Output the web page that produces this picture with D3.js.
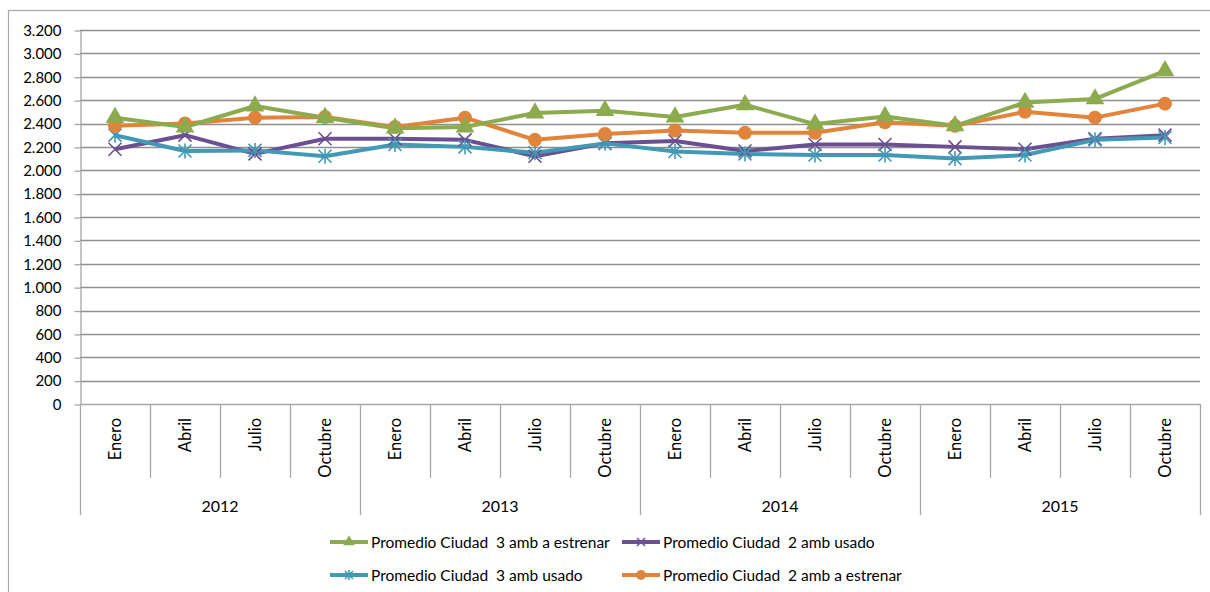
<!DOCTYPE html>
<html>
<head>
<meta charset="utf-8">
<script src="https://cdn.jsdelivr.net/npm/d3@7"></script>
<style>
  html, body { margin: 0; padding: 0; background: #fff; }
  svg { display: block; }
  text { font-family: Lato, "Open Sans", sans-serif; fill: #000; white-space: pre; }
</style>
</head>
<body>
<svg id="chart" width="1210" height="592"></svg>
<script>
// Quarterly averages, city of Buenos Aires
const years = ["2012", "2013", "2014", "2015"];
const months = ["Enero", "Abril", "Julio", "Octubre"];
const yTicks = [0, 200, 400, 600, 800, 1000, 1200, 1400, 1600, 1800, 2000, 2200, 2400, 2600, 2800, 3000, 3200];

const tresAmbEstrenar = [2450, 2370, 2550, 2450, 2360, 2370, 2490, 2510, 2455, 2560, 2395, 2460, 2380, 2580, 2610, 2850];
const dosAmbUsado     = [2180, 2300, 2140, 2270, 2270, 2260, 2120, 2230, 2250, 2165, 2220, 2220, 2200, 2180, 2270, 2300];
const tresAmbUsado    = [2300, 2165, 2170, 2120, 2220, 2200, 2150, 2230, 2160, 2140, 2130, 2130, 2100, 2130, 2260, 2280];
const dosAmbEstrenar  = [2380, 2400, 2450, 2455, 2370, 2450, 2260, 2310, 2340, 2320, 2320, 2410, 2380, 2500, 2450, 2570];

const seriesNames = [
  "Promedio Ciudad  3 amb a estrenar",
  "Promedio Ciudad  2 amb usado",
  "Promedio Ciudad  3 amb usado",
  "Promedio Ciudad  2 amb a estrenar"
];

const series = [
  { name: seriesNames[0], values: tresAmbEstrenar, color: "#8cab4e", marker: "triangle" },
  { name: seriesNames[1], values: dosAmbUsado,     color: "#6c4f91", marker: "x" },
  { name: seriesNames[2], values: tresAmbUsado,    color: "#4199b4", marker: "star" },
  { name: seriesNames[3], values: dosAmbEstrenar,  color: "#e0843b", marker: "circle" }
];

const categories = [];
years.forEach(y => months.forEach(m => categories.push({ key: y + "-" + m, year: y, month: m })));

const svg = d3.select("#chart");
const plotLeft = 80, plotRight = 1200, plotTop = 30, plotBottom = 404;

// outer chart frame
svg.append("rect")
  .attr("x", 8.5).attr("y", 10.5).attr("width", 1220).attr("height", 620)
  .attr("fill", "none").attr("stroke", "#a6a6a6").attr("stroke-width", 1.2);

const x = d3.scaleBand().domain(categories.map(d => d.key)).range([plotLeft, plotRight]);
const y = d3.scaleLinear().domain([0, 3200]).range([plotBottom, plotTop]);

// horizontal gridlines
svg.append("g").selectAll("line").data(yTicks.filter(v => v > 0)).join("line")
  .attr("x1", plotLeft).attr("x2", plotRight)
  .attr("y1", d => Math.round(y(d)) + 0.5).attr("y2", d => Math.round(y(d)) + 0.5)
  .attr("stroke", "#8f8f8f").attr("stroke-width", 1.3);

// y axis
const yAxis = d3.axisLeft(y).tickValues(yTicks).tickSizeInner(6).tickSizeOuter(0).tickPadding(13)
  .tickFormat(d => d3.format(",")(d).replace(/,/g, "."));
const gy = svg.append("g").attr("transform", `translate(${plotLeft + 0.5},0.5)`).call(yAxis);
gy.select(".domain").attr("stroke", "#a6a6a6").attr("stroke-width", 1.3);
gy.selectAll(".tick line").attr("stroke", "#a6a6a6").attr("stroke-width", 1.3);
gy.selectAll(".tick text").attr("font-size", 15).attr("font-family", "Lato, sans-serif").attr("fill", "#000");

// x axis baseline
svg.append("line")
  .attr("x1", plotLeft).attr("x2", plotRight).attr("y1", plotBottom + 0.5).attr("y2", plotBottom + 0.5)
  .attr("stroke", "#a6a6a6").attr("stroke-width", 1.3);

// category separators (short) and year separators (long)
const bounds = d3.range(categories.length + 1);
svg.append("g").selectAll("line").data(bounds).join("line")
  .attr("x1", i => Math.round(plotLeft + i * x.bandwidth()) + 0.5)
  .attr("x2", i => Math.round(plotLeft + i * x.bandwidth()) + 0.5)
  .attr("y1", plotBottom)
  .attr("y2", i => (i % months.length === 0) ? 515 : 478)
  .attr("stroke", "#a6a6a6").attr("stroke-width", 1.3);

// month labels, rotated
svg.append("g").selectAll("text").data(categories).join("text")
  .attr("transform", d => `translate(${x(d.key) + x.bandwidth() / 2 + 6},418) rotate(-90)`)
  .attr("text-anchor", "end")
  .attr("font-size", 16.5)
  .text(d => d.month);

// year labels
svg.append("g").selectAll("text").data(years).join("text")
  .attr("x", d => x(d + "-" + months[0]) + x.bandwidth() * months.length / 2)
  .attr("y", 512)
  .attr("text-anchor", "middle")
  .attr("font-size", 16)
  .text(d => d);

// marker symbols
function drawMarker(g, type, color, size) {
  if (type === "triangle") {
    g.append("path").attr("d", d3.symbol(d3.symbolTriangle, size * size * 0.9)()).attr("fill", color);
  } else if (type === "circle") {
    g.append("circle").attr("r", size / 2).attr("fill", color);
  } else if (type === "x") {
    const h = size / 2;
    g.append("path").attr("d", `M${-h},${-h}L${h},${h}M${-h},${h}L${h},${-h}`)
      .attr("stroke", color).attr("stroke-width", 1.6).attr("fill", "none");
  } else if (type === "star") {
    const h = size / 2;
    g.append("path").attr("d", `M${-h},${-h}L${h},${h}M${-h},${h}L${h},${-h}M0,${-h - 1}L0,${h + 1}`)
      .attr("stroke", color).attr("stroke-width", 1.6).attr("fill", "none");
  }
}

const line = d3.line()
  .x((d, i) => x(categories[i].key) + x.bandwidth() / 2)
  .y(d => y(d));

// draw in stacking order: purple and teal underneath, then orange, green
const drawOrder = [1, 2, 3, 0];
drawOrder.forEach(si => {
  const s = series[si];
  svg.append("path").datum(s.values)
    .attr("d", line)
    .attr("fill", "none")
    .attr("stroke", s.color)
    .attr("stroke-width", 4)
    .attr("stroke-linejoin", "round");
});
drawOrder.forEach(si => {
  const s = series[si];
  const size = s.marker === "circle" ? 14 : 13;
  s.values.forEach((v, i) => {
    const g = svg.append("g")
      .attr("transform", `translate(${x(categories[i].key) + x.bandwidth() / 2},${y(v)})`);
    drawMarker(g, s.marker, s.color, size);
  });
});

// legend
const legendPos = [
  { x: 330, y: 542 }, { x: 622, y: 542 },
  { x: 330, y: 575 }, { x: 622, y: 575 }
];
series.forEach((s, i) => {
  const p = legendPos[i];
  const g = svg.append("g").attr("transform", `translate(${p.x},${p.y})`);
  g.append("line").attr("x1", 0).attr("x2", 38).attr("y1", 0).attr("y2", 0)
    .attr("stroke", s.color).attr("stroke-width", 4);
  const mg = g.append("g").attr("transform", "translate(19,0)");
  drawMarker(mg, s.marker, s.color, s.marker === "circle" ? 10 : 8);
  g.append("text").attr("x", 41).attr("y", 5.5).attr("font-size", 15.5).text(s.name);
});
</script>
</body>
</html>
